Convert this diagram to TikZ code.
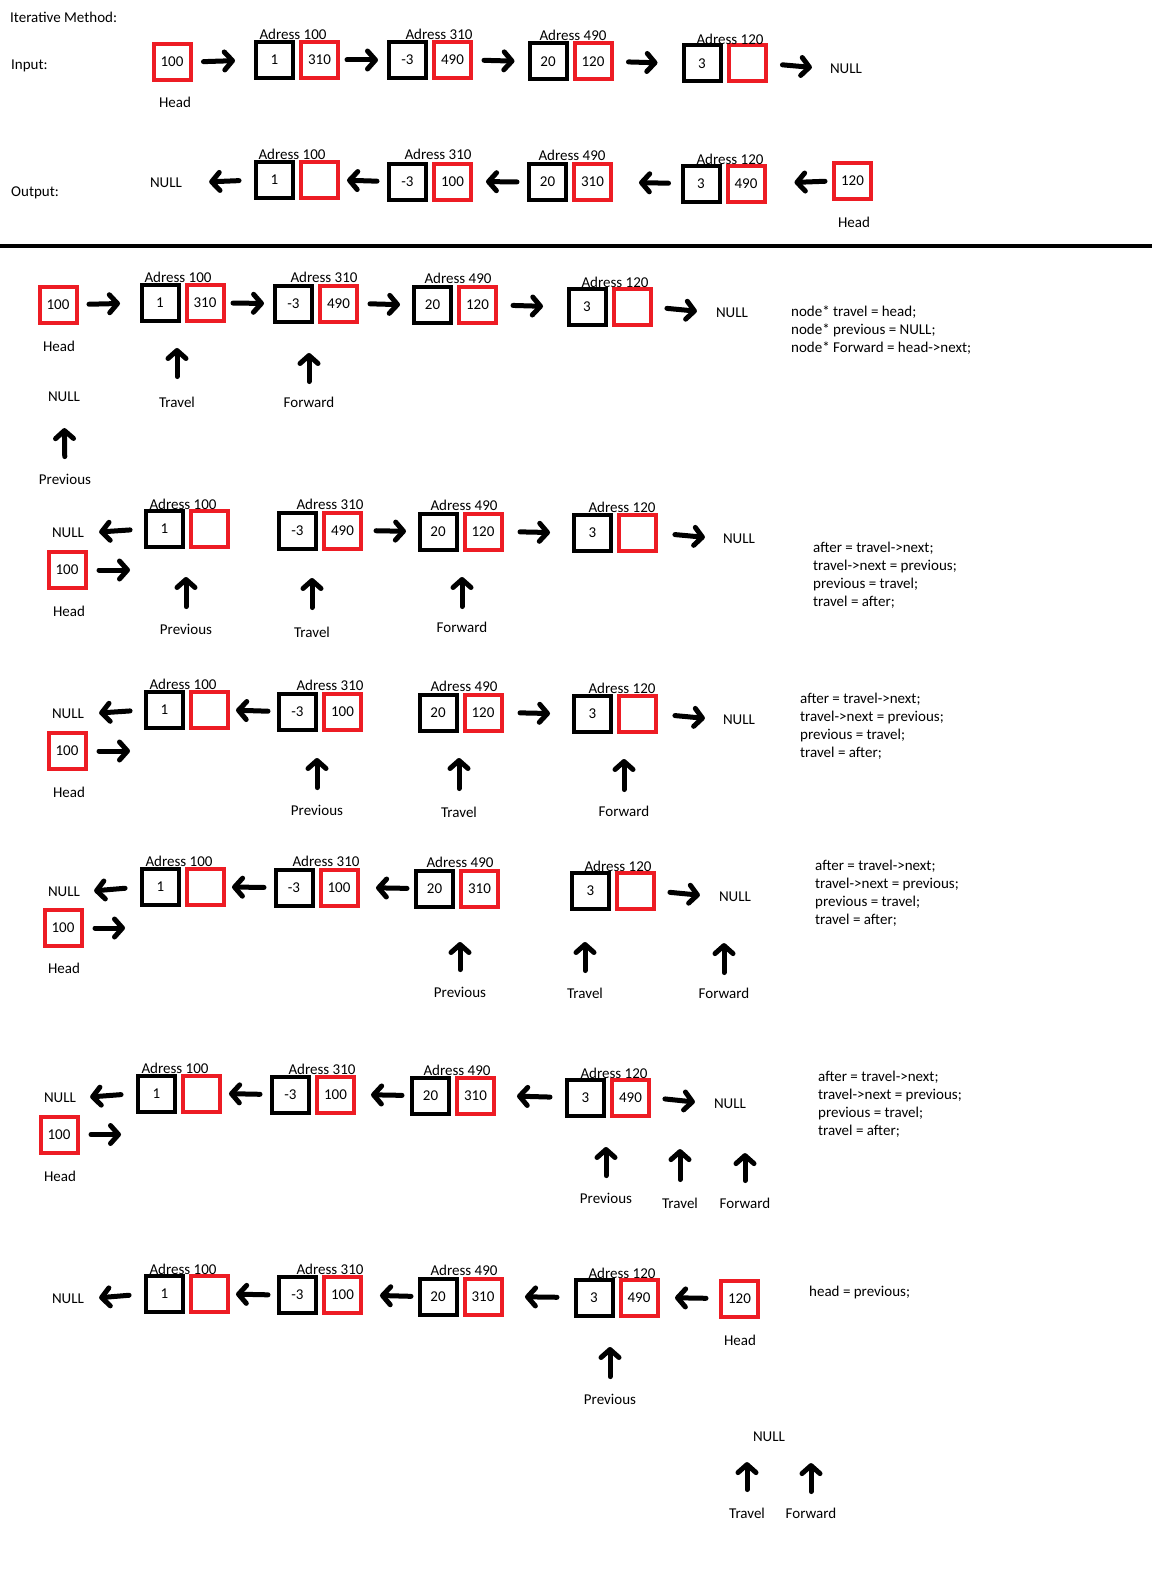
\documentclass[tikz,border=0pt]{standalone}
\usepackage{fontspec}
\setmainfont{Carlito}
\usetikzlibrary{arrows.meta, positioning}
\definecolor{paintred}{RGB}{237,28,36}

\begin{document}
\begin{tikzpicture}[
  x=1pt, y=-1pt,
  every node/.style={font=\fontsize{15}{18}\selectfont, inner sep=0pt},
  val/.style={rectangle, draw=black, line width=4pt, minimum width=37pt, minimum height=36pt},
  ptr/.style={rectangle, draw=paintred, line width=4pt, minimum width=37pt, minimum height=36pt},
  code/.style={align=left, anchor=north west},
  arrow/.style={line width=5pt, line cap=round, -{Straight Barb[length=8pt, width=18pt, round]}}
]

\fill[white] (0,0) rectangle (1152,1592);
\useasboundingbox (0,0) rectangle (1152,1592);

\node[anchor=west] (title) at (10,17) {Iterative Method:};
\node[anchor=west] (inLbl) at (11,66) {Input:};
\node[anchor=west] (outLbl) at (11,193) {Output:};

% Input list
\node[ptr] (inHead) at (172,62) {100};
\node (inHeadLbl) at (175,102) {Head};
\node[val] (in1) at (274.5,60) {1};
\node[ptr, right=4pt of in1] (in1n) {310};
\node (in1a) at (293,34) {Adress 100};
\node[val] (in2) at (407.5,60) {-3};
\node[ptr, right=4pt of in2] (in2n) {490};
\node (in2a) at (439,34) {Adress 310};
\node[val] (in3) at (548,61.5) {20};
\node[ptr, right=4pt of in3] (in3n) {120};
\node (in3a) at (573,35) {Adress 490};
\node[val] (in4) at (702,63.5) {3};
\node[ptr, right=4pt of in4] (in4n) {};
\node (in4a) at (730,39) {Adress 120};
\node (inNull) at (846,69) {NULL};

\draw[arrow, shorten <=11pt, shorten >=19pt] (inHead.east) -- (in1.west);
\draw[arrow, shorten <=7pt, shorten >=9pt] (in1n.east) -- (in2.west);
\draw[arrow, shorten <=11pt, shorten >=13pt] (in2n.east) -- (in3.west);
\draw[arrow, shorten <=15pt, shorten >=24pt] (in3n.east) -- (in4.west);
\draw[arrow, shorten <=15pt, shorten >=18pt] (in4n.east) -- (inNull.west);

% Output list
\node (outNull) at (166,183) {NULL};
\node[val] (out1) at (274.5,180) {1};
\node[ptr, right=4pt of out1] (out1n) {};
\node (out1a) at (292,154) {Adress 100};
\node[val] (out2) at (407.5,181.5) {-3};
\node[ptr, right=4pt of out2] (out2n) {100};
\node (out2a) at (438,154) {Adress 310};
\node[val] (out3) at (547.5,182) {20};
\node[ptr, right=4pt of out3] (out3n) {310};
\node (out3a) at (572,155) {Adress 490};
\node[val] (out4) at (701,183.5) {3};
\node[ptr, right=4pt of out4] (out4n) {490};
\node (out4a) at (730,159) {Adress 120};
\node[ptr] (outHead) at (852.5,181) {120};
\node (outHeadLbl) at (854,222) {Head};

\draw[arrow, shorten <=15pt, shorten >=27pt] (out1.west) -- (outNull.east);
\draw[arrow, shorten <=10pt, shorten >=7pt] (out2.west) -- (out1n.east);
\draw[arrow, shorten <=10pt, shorten >=13pt] (out3.west) -- (out2n.east);
\draw[arrow, shorten <=12pt, shorten >=26pt] (out4.west) -- (out3n.east);
\draw[arrow, shorten <=7pt, shorten >=28pt] (outHead.west) -- (out4n.east);

\draw[line width=4pt] (0,246) -- (1152,246);

% Step 1: set up
\node[ptr] (saHead) at (58,304.5) {100};
\node (saHeadLbl) at (59,346) {Head};
\node[val] (sa1) at (160,303) {1};
\node[ptr, right=4pt of sa1] (sa1n) {310};
\node (sa1a) at (178,277) {Adress 100};
\node[val] (sa2) at (293.5,303.5) {-3};
\node[ptr, right=4pt of sa2] (sa2n) {490};
\node (sa2a) at (324,277) {Adress 310};
\node[val] (sa3) at (432.5,305) {20};
\node[ptr, right=4pt of sa3] (sa3n) {120};
\node (sa3a) at (458,278) {Adress 490};
\node[val] (sa4) at (587,307) {3};
\node[ptr, right=4pt of sa4] (sa4n) {};
\node (sa4a) at (615,282) {Adress 120};
\node (saNull) at (732,313) {NULL};
\node (saPrevNull) at (64,397) {NULL};
\node (saPrev) at (65,479) {Previous};
\node (saTrav) at (177,402) {Travel};
\node (saFwd) at (309,402) {Forward};
\node[code] (saCode) at (791,306) {node* travel = head;\\node* previous = NULL;\\node* Forward = head->next;};

\draw[arrow, shorten <=10.5pt, shorten >=19.5pt] (saHead.east) -- (sa1.west);
\draw[arrow, shorten <=7.5pt, shorten >=9pt] (sa1n.east) -- (sa2.west);
\draw[arrow, shorten <=11pt, shorten >=12pt] (sa2n.east) -- (sa3.west);
\draw[arrow, shorten <=15pt, shorten >=23.5pt] (sa3n.east) -- (sa4.west);
\draw[arrow, shorten <=14.5pt, shorten >=19pt] (sa4n.east) -- (saNull.west);
\draw[arrow, shorten <=17pt, shorten >=26pt] (saPrev.north) -- (saPrevNull.south);
\draw[arrow, shorten <=20pt, shorten >=25pt] (saTrav.north) -- (saTrav.north |- sa1.south);
\draw[arrow, shorten <=15pt, shorten >=29.5pt] (saFwd.north) -- (saFwd.north |- sa2.south);

% Step 2
\node (sbNullL) at (68,533) {NULL};
\node[val] (sb1) at (164.5,529) {1};
\node[ptr, right=4pt of sb1] (sb1n) {};
\node (sb1a) at (183,504) {Adress 100};
\node[ptr] (sbHead) at (67,570) {100};
\node (sbHeadLbl) at (69,611) {Head};
\node[val] (sb2) at (297.5,530.5) {-3};
\node[ptr, right=4pt of sb2] (sb2n) {490};
\node (sb2a) at (330,504) {Adress 310};
\node[val] (sb3) at (438,531.5) {20};
\node[ptr, right=4pt of sb3] (sb3n) {120};
\node (sb3a) at (464,505) {Adress 490};
\node[val] (sb4) at (592.5,533) {3};
\node[ptr, right=4pt of sb4] (sb4n) {};
\node (sb4a) at (622,507) {Adress 120};
\node (sbNullR) at (739,539) {NULL};
\node (sbPrev) at (186,629) {Previous};
\node (sbTrav) at (312,632) {Travel};
\node (sbFwd) at (462,627) {Forward};
\node[code] (sbCode) at (813,542) {after = travel->next;\\travel->next = previous;\\previous = travel;\\travel = after;};

\draw[arrow, shorten <=14pt, shorten >=15pt] (sb1.west) -- (sbNullL.east);
\draw[arrow, shorten <=11.5pt, shorten >=14pt] (sbHead.east) -- (sbHead.east -| sb1.west);
\draw[arrow, shorten <=13pt, shorten >=11.5pt] (sb2n.east) -- (sb3.west);
\draw[arrow, shorten <=16.5pt, shorten >=22pt] (sb3n.east) -- (sb4.west);
\draw[arrow, shorten <=17pt, shorten >=18pt] (sb4n.east) -- (sbNullR.west);
\draw[arrow, shorten <=17pt, shorten >=28pt] (sbPrev.north) -- (sbPrev.north |- sb1.south);
\draw[arrow, shorten <=19pt, shorten >=27.5pt] (sbTrav.north) -- (sbTrav.north |- sb2.south);
\draw[arrow, shorten <=15pt, shorten >=25.5pt] (sbFwd.north) -- (sbFwd.north |- sb3.south);

% Step 3
\node (scNullL) at (68,714) {NULL};
\node[val] (sc1) at (164.5,710) {1};
\node[ptr, right=4pt of sc1] (sc1n) {};
\node (sc1a) at (183,684) {Adress 100};
\node[ptr] (scHead) at (67,751) {100};
\node (scHeadLbl) at (69,792) {Head};
\node[val] (sc2) at (297.5,711.5) {-3};
\node[ptr, right=4pt of sc2] (sc2n) {100};
\node (sc2a) at (330,685) {Adress 310};
\node[val] (sc3) at (438,712.5) {20};
\node[ptr, right=4pt of sc3] (sc3n) {120};
\node (sc3a) at (464,686) {Adress 490};
\node[val] (sc4) at (592.5,714) {3};
\node[ptr, right=4pt of sc4] (sc4n) {};
\node (sc4a) at (622,688) {Adress 120};
\node (scNullR) at (739,720) {NULL};
\node (scPrev) at (317,810) {Previous};
\node (scTrav) at (459,812) {Travel};
\node (scFwd) at (624,811) {Forward};
\node[code] (scCode) at (800,693) {after = travel->next;\\travel->next = previous;\\previous = travel;\\travel = after;};

\draw[arrow, shorten <=14pt, shorten >=15pt] (sc1.west) -- (scNullL.east);
\draw[arrow, shorten <=11.5pt, shorten >=14pt] (scHead.east) -- (scHead.east -| sc1.west);
\draw[arrow, shorten <=9pt, shorten >=6pt] (sc2.west) -- (sc1n.east);
\draw[arrow, shorten <=16.5pt, shorten >=22pt] (sc3n.east) -- (sc4.west);
\draw[arrow, shorten <=17pt, shorten >=18pt] (sc4n.east) -- (scNullR.west);
\draw[arrow, shorten <=17pt, shorten >=26.5pt] (scPrev.north) -- (scPrev.north |- sc2.south);
\draw[arrow, shorten <=18pt, shorten >=25.5pt] (scTrav.north) -- (scTrav.north |- sc3.south);
\draw[arrow, shorten <=16pt, shorten >=25pt] (scFwd.north) -- (scFwd.north |- sc4.south);

% Step 4
\node (sdNullL) at (64,892) {NULL};
\node[val] (sd1) at (160.5,887) {1};
\node[ptr, right=4pt of sd1] (sd1n) {};
\node (sd1a) at (179,861) {Adress 100};
\node[val] (sd2) at (294,887.5) {-3};
\node[ptr, right=4pt of sd2] (sd2n) {100};
\node (sd2a) at (326,861) {Adress 310};
\node[val] (sd3) at (434.5,888.5) {20};
\node[ptr, right=4pt of sd3] (sd3n) {310};
\node (sd3a) at (460,862) {Adress 490};
\node[val] (sd4) at (590.5,891) {3};
\node[ptr, right=4pt of sd4] (sd4n) {};
\node (sd4a) at (618,866) {Adress 120};
\node (sdNullR) at (735,897) {NULL};
\node[ptr] (sdHead) at (63,928) {100};
\node (sdHeadLbl) at (64,968) {Head};
\node (sdPrev) at (460,992) {Previous};
\node (sdTrav) at (585,993) {Travel};
\node (sdFwd) at (724,993) {Forward};
\node[code] (sdCode) at (815,860) {after = travel->next;\\travel->next = previous;\\previous = travel;\\travel = after;};

\draw[arrow, shorten <=15pt, shorten >=14pt] (sd1.west) -- (sdNullL.east);
\draw[arrow, shorten <=9.5pt, shorten >=6pt] (sd2.west) -- (sd1n.east);
\draw[arrow, shorten <=7pt, shorten >=16.5pt] (sd3.west) -- (sd2n.east);
\draw[arrow, shorten <=14pt, shorten >=19pt] (sd4n.east) -- (sdNullR.west);
\draw[arrow, shorten <=11.5pt, shorten >=15pt] (sdHead.east) -- (sdHead.east -| sd1.west);
\draw[arrow, shorten <=17pt, shorten >=33.5pt] (sdPrev.north) -- (sdPrev.north |- sd3.south);
\draw[arrow, shorten <=17pt, shorten >=31pt] (sdTrav.north) -- (sdTrav.north |- sd4.south);
\draw[arrow, shorten <=15pt, shorten >=41pt] (sdFwd.north) -- (sdFwd.north |- sdNullR.south);

% Step 5
\node (seNullL) at (60,1098) {NULL};
\node[val] (se1) at (156.5,1093.5) {1};
\node[ptr, right=4pt of se1] (se1n) {};
\node (se1a) at (175,1068) {Adress 100};
\node[val] (se2) at (290.5,1094.5) {-3};
\node[ptr, right=4pt of se2] (se2n) {100};
\node (se2a) at (322,1069) {Adress 310};
\node[val] (se3) at (430.5,1095.5) {20};
\node[ptr, right=4pt of se3] (se3n) {310};
\node (se3a) at (457,1070) {Adress 490};
\node[val] (se4) at (585.5,1097.5) {3};
\node[ptr, right=4pt of se4] (se4n) {490};
\node (se4a) at (614,1073) {Adress 120};
\node (seNullR) at (730,1104) {NULL};
\node[ptr] (seHead) at (59,1134.5) {100};
\node (seHeadLbl) at (60,1176) {Head};
\node (sePrev) at (606,1198) {Previous};
\node (seTrav) at (680,1203) {Travel};
\node (seFwd) at (745,1203) {Forward};
\node[code] (seCode) at (818,1071) {after = travel->next;\\travel->next = previous;\\previous = travel;\\travel = after;};

\draw[arrow, shorten <=15pt, shorten >=14pt] (se1.west) -- (seNullL.east);
\draw[arrow, shorten <=10pt, shorten >=7pt] (se2.west) -- (se1n.east);
\draw[arrow, shorten <=8pt, shorten >=15pt] (se3.west) -- (se2n.east);
\draw[arrow, shorten <=15pt, shorten >=21pt] (se4.west) -- (se3n.east);
\draw[arrow, shorten <=14pt, shorten >=19pt] (se4n.east) -- (seNullR.west);
\draw[arrow, shorten <=11.5pt, shorten >=15pt] (seHead.east) -- (seHead.east -| se1.west);
\draw[arrow, shorten <=17pt, shorten >=29.5pt] (sePrev.north) -- (sePrev.north |- se4.south);
\draw[arrow, shorten <=18pt, shorten >=40pt] (seTrav.north) -- (seTrav.north |- seNullR.south);
\draw[arrow, shorten <=17pt, shorten >=44pt] (seFwd.north) -- (seFwd.north |- seNullR.south);

% Step 6: new head
\node (sfNull) at (68,1299) {NULL};
\node[val] (sf1) at (164.5,1294) {1};
\node[ptr, right=4pt of sf1] (sf1n) {};
\node (sf1a) at (183,1269) {Adress 100};
\node[val] (sf2) at (297.5,1295) {-3};
\node[ptr, right=4pt of sf2] (sf2n) {100};
\node (sf2a) at (330,1269) {Adress 310};
\node[val] (sf3) at (438,1296.5) {20};
\node[ptr, right=4pt of sf3] (sf3n) {310};
\node (sf3a) at (464,1270) {Adress 490};
\node[val] (sf4) at (594,1297.5) {3};
\node[ptr, right=4pt of sf4] (sf4n) {490};
\node (sf4a) at (622,1273) {Adress 120};
\node[ptr] (sfHead) at (739.5,1298.5) {120};
\node (sfHeadLbl) at (740,1340) {Head};
\node (sfPrev) at (610,1399) {Previous};
\node (sfNull2) at (769,1437) {NULL};
\node (sfTrav) at (747,1513) {Travel};
\node (sfFwd) at (811,1513) {Forward};
\node[code] (sfCode) at (809,1286) {head = previous;};

\draw[arrow, shorten <=15pt, shorten >=15pt] (sf1.west) -- (sfNull.east);
\draw[arrow, shorten <=9pt, shorten >=6pt] (sf2.west) -- (sf1n.east);
\draw[arrow, shorten <=6.5pt, shorten >=17pt] (sf3.west) -- (sf2n.east);
\draw[arrow, shorten <=16.5pt, shorten >=21.5pt] (sf4.west) -- (sf3n.east);
\draw[arrow, shorten <=13pt, shorten >=15.5pt] (sfHead.west) -- (sf4n.east);
\draw[arrow, shorten <=17pt, shorten >=29.5pt] (sfPrev.north) -- (sfPrev.north |- sf4.south);
\draw[arrow, shorten <=18pt, shorten >=20pt] (sfTrav.north) -- (sfTrav.north |- sfNull2.south);
\draw[arrow, shorten <=16pt, shorten >=21pt] (sfFwd.north) -- (sfFwd.north |- sfNull2.south);

\end{tikzpicture}
\end{document}
